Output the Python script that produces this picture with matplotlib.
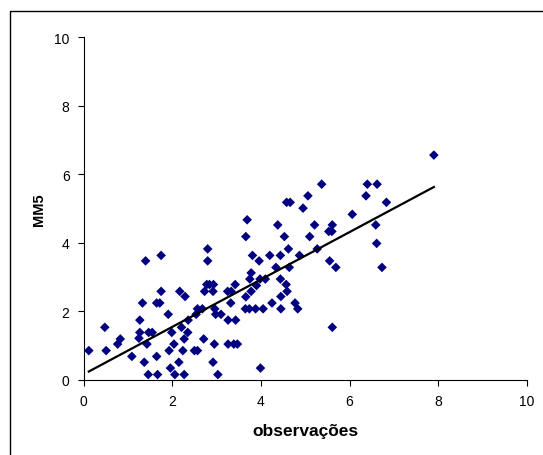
import numpy as np
import matplotlib
matplotlib.use("Agg")
import matplotlib.pyplot as plt
from matplotlib.patches import Rectangle

# valores (observacoes x MM5)
obs = [0.12, 0.48, 0.51, 0.77, 0.83, 1.09, 1.27, 1.33, 1.27, 1.25,
       1.40, 1.37, 1.43, 1.46, 1.47, 1.55, 1.65, 1.67, 1.65, 1.72,
       1.75, 1.75, 1.91, 1.93, 1.96, 1.99, 2.04, 2.06, 2.15, 2.17,
       2.21, 2.24, 2.27, 2.27, 2.29, 2.35, 2.36, 2.50, 2.57, 2.54,
       2.57, 2.68, 2.71, 2.73, 2.78, 2.80, 2.80, 2.84, 2.92, 2.93,
       2.92, 2.95, 2.96, 2.98, 3.03, 3.10, 3.25, 3.26, 3.26, 3.33,
       3.32, 3.42, 3.43, 3.39, 3.47, 3.66, 3.66, 3.69, 3.65, 3.74,
       3.75, 3.78, 3.78, 3.81, 3.88, 3.90, 3.96, 3.98, 3.99, 4.05,
       4.10, 4.20, 4.25, 4.34, 4.38, 4.44, 4.44, 4.45, 4.45, 4.53,
       4.57, 4.59, 4.62, 4.58, 4.66, 4.64, 4.77, 4.83, 4.87, 4.95,
       5.06, 5.10, 5.21, 5.27, 5.37, 5.53, 5.60, 5.61, 5.55, 5.69,
       5.61, 6.06, 6.37, 6.40, 6.62, 6.59, 6.61, 6.73, 6.83, 7.90]
mm5 = [0.85, 1.53, 0.85, 1.04, 1.19, 0.68, 1.74, 2.24, 1.38, 1.21,
       3.47, 0.51, 1.04, 0.15, 1.38, 1.38, 0.68, 0.15, 2.24, 2.24,
       3.63, 2.58, 1.91, 0.85, 0.34, 1.38, 1.04, 0.15, 0.51, 2.58,
       1.53, 0.85, 1.19, 0.15, 2.43, 1.38, 1.74, 0.85, 0.85, 1.91,
       2.07, 2.07, 1.19, 2.58, 2.78, 3.82, 3.47, 2.78, 2.58, 2.78,
       0.51, 1.04, 2.07, 1.91, 0.15, 1.91, 2.58, 1.74, 1.04, 2.58,
       2.24, 2.78, 1.74, 1.04, 1.04, 2.42, 4.18, 4.67, 2.07, 2.07,
       2.94, 3.12, 2.58, 3.63, 2.07, 2.75, 3.47, 2.94, 0.34, 2.07,
       2.94, 3.63, 2.24, 3.28, 4.52, 3.63, 2.94, 2.43, 2.07, 4.18,
       2.78, 2.58, 3.82, 5.18, 5.18, 3.28, 2.24, 2.07, 3.63, 5.01,
       5.37, 4.18, 4.52, 3.82, 5.71, 4.33, 4.33, 4.52, 3.47, 3.28,
       1.53, 4.83, 5.37, 5.71, 5.71, 4.52, 3.98, 3.28, 5.18, 6.56]
ticks = [0, 2, 4, 6, 8, 10]

x = np.array(obs)
y = np.array(mm5)

plt.rcParams['font.family'] = ['Liberation Sans', 'DejaVu Sans']

fig = plt.figure(figsize=(5.43, 4.56), dpi=100)
# moldura do grafico (so o topo e a esquerda aparecem)
fig.patches.append(Rectangle((10 / 543, -0.1), 1.2, 1.1 - 12 / 456, transform=fig.transFigure,
                             fill=False, edgecolor='black', linewidth=1.0))

ax = fig.add_axes([83.5 / 543, 75.3 / 456, 443.5 / 543, 342.4 / 456])
ax.scatter(x, y, marker='D', s=24, color='#000080', edgecolors='none', zorder=3)

# linha de tendencia (regressao linear)
a, b = np.polyfit(x, y, 1)
xl = np.array([x.min(), x.max()])
ax.plot(xl, a * xl + b, color='black', linewidth=1.6, zorder=4)

ax.set_xlim(0, 10)
ax.set_ylim(0, 10)
ax.set_xticks(ticks)
ax.set_yticks(ticks)
ax.spines['top'].set_visible(False)
ax.spines['right'].set_visible(False)
ax.tick_params(direction='out', length=4, width=0.8, labelsize=10, pad=6)
ax.set_xlabel('observações', fontsize=12.5, fontweight='bold', labelpad=11)
ax.set_ylabel('MM5', fontsize=10.5, fontweight='bold', labelpad=6)

fig.savefig('out.png', dpi=100)
